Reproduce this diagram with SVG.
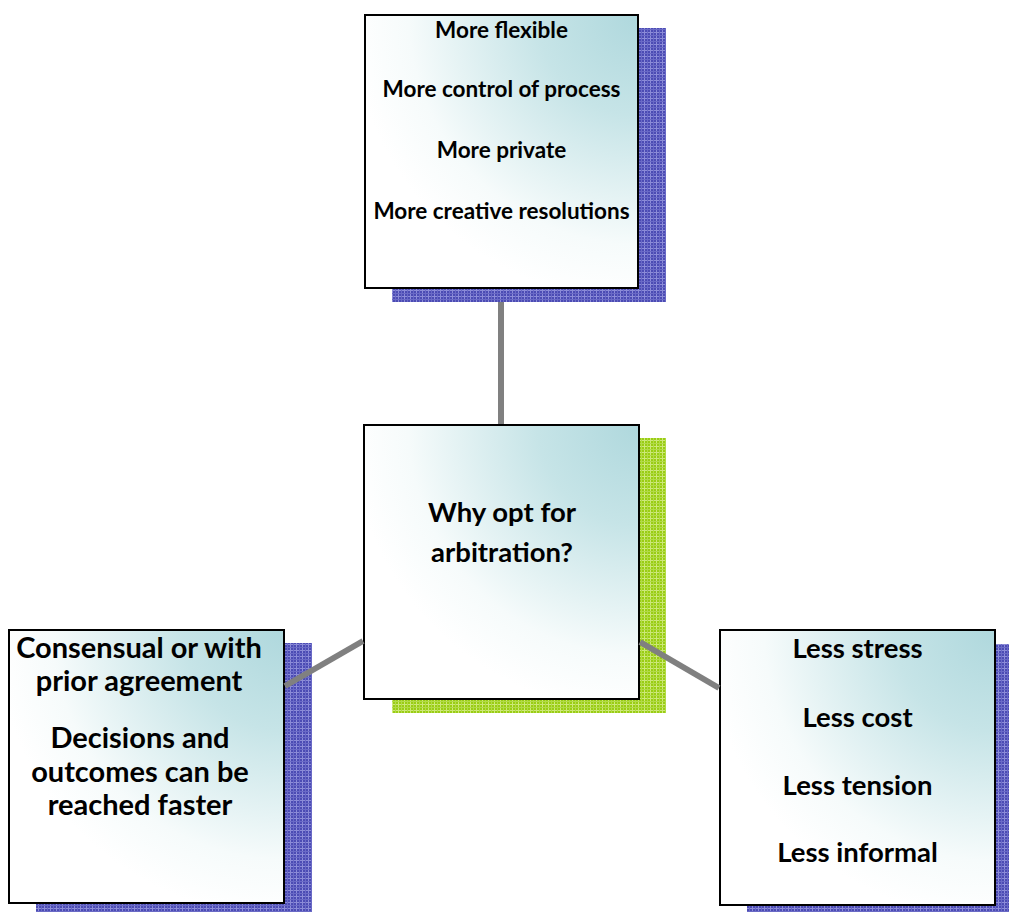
<svg xmlns="http://www.w3.org/2000/svg" width="1010" height="912" viewBox="0 0 1010 912">
  <defs>
    <radialGradient id="boxFill" cx="1" cy="0" r="1.05" fx="1" fy="0">
      <stop offset="0" stop-color="#afd8dd"/>
      <stop offset="0.35" stop-color="#c6e4e7"/>
      <stop offset="0.8" stop-color="#f6fbfb"/>
      <stop offset="1" stop-color="#ffffff"/>
    </radialGradient>
    <pattern id="bluePlaid" width="6" height="6" patternUnits="userSpaceOnUse">
      <rect width="6" height="6" fill="#4c4cb4"/>
      <rect x="0" y="2" width="6" height="1" fill="#8c8cd8"/>
      <rect x="2" y="0" width="1" height="6" fill="#8c8cd8"/>
      <rect x="0" y="5" width="6" height="1" fill="#6a6ac6"/>
      <rect x="5" y="0" width="1" height="6" fill="#6a6ac6"/>
    </pattern>
    <pattern id="greenPlaid" width="6" height="6" patternUnits="userSpaceOnUse">
      <rect width="6" height="6" fill="#9acd14"/>
      <rect x="0" y="2" width="6" height="1" fill="#cde87a"/>
      <rect x="2" y="0" width="1" height="6" fill="#cde87a"/>
      <rect x="0" y="5" width="6" height="1" fill="#b2da48"/>
      <rect x="5" y="0" width="1" height="6" fill="#b2da48"/>
    </pattern>
  </defs>
  <style>
    .box { fill: url(#boxFill); stroke: #000000; stroke-width: 2; }
    .shadowBlue { fill: url(#bluePlaid); }
    .shadowGreen { fill: url(#greenPlaid); }
    .conn { stroke: #808080; stroke-width: 6; fill: none; }
    text { font-family: Lato, "Open Sans", "Liberation Sans", sans-serif; font-weight: bold; fill: #000000; text-anchor: middle; }
    .t1 { font-size: 22.5px; }
    .t2 { font-size: 27.5px; }
    .t3 { font-size: 29px; }
    .t4 { font-size: 27.5px; }
  </style>
  <rect width="1010" height="912" fill="#ffffff"/>

  <g id="node-top">
    <rect class="shadowBlue" x="392" y="28" width="274" height="274"/>
    <rect class="box" x="365" y="15" width="273" height="273"/>
    <text class="t1" x="501.5" y="38">More flexible</text>
    <text class="t1" x="501.5" y="97">More control of process</text>
    <text class="t1" x="501.5" y="158">More private</text>
    <text class="t1" x="501.5" y="219">More creative resolutions</text>
  </g>

  <g id="node-center">
    <rect class="shadowGreen" x="392" y="438" width="274" height="275"/>
    <rect class="box" x="364" y="425" width="275" height="274"/>
    <text class="t2" x="502" y="522">Why opt for</text>
    <text class="t2" x="502" y="562">arbitration?</text>
  </g>

  <g id="node-left">
    <rect class="shadowBlue" x="36" y="643" width="276" height="269"/>
    <rect class="box" x="9" y="630" width="275" height="273"/>
    <text class="t3" x="139" y="658">Consensual or with</text>
    <text class="t3" x="139" y="691">prior agreement</text>
    <text class="t3" x="140" y="748">Decisions and</text>
    <text class="t3" x="140" y="782">outcomes can be</text>
    <text class="t3" x="140" y="815">reached faster</text>
  </g>

  <g id="node-right">
    <rect class="shadowBlue" x="747" y="644" width="262" height="268"/>
    <rect class="box" x="720" y="630" width="275" height="275"/>
    <text class="t4" x="857.5" y="658">Less stress</text>
    <text class="t4" x="857.5" y="727">Less cost</text>
    <text class="t4" x="857.5" y="795">Less tension</text>
    <text class="t4" x="857.5" y="862">Less informal</text>
  </g>

  <g id="connectors">
    <line class="conn" x1="501" y1="302" x2="501" y2="424"/>
    <line class="conn" x1="363" y1="641" x2="285" y2="686"/>
    <line class="conn" x1="640" y1="642" x2="719" y2="688"/>
  </g>
</svg>
